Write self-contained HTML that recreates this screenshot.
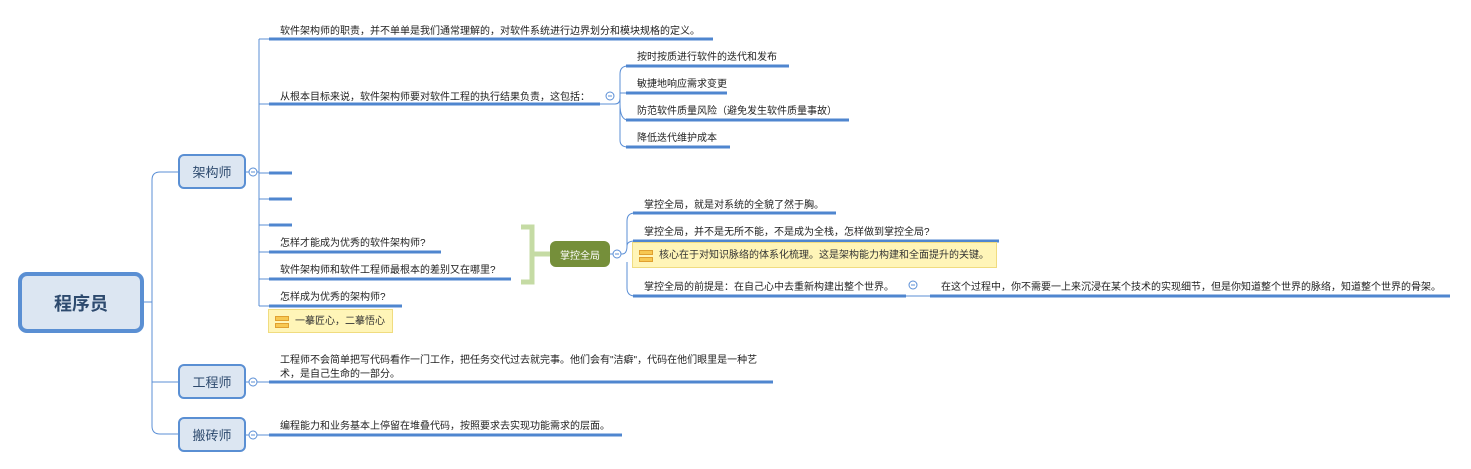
<!DOCTYPE html>
<html><head><meta charset="utf-8"><style>
body{margin:0;width:1471px;height:469px;background:#fff;position:relative;overflow:hidden;font-family:"Liberation Sans","Noto Sans CJK SC",sans-serif;}
.t{position:absolute;font-size:10px;color:#222;white-space:nowrap;line-height:12px;margin-top:2px;}
.box{position:absolute;box-sizing:border-box;background:#dce6f2;border:2px solid #5a8fd3;border-radius:6px;color:#2d4a6e;display:flex;align-items:center;justify-content:center;font-size:13px;}
.note{position:absolute;box-sizing:border-box;background:#fff5b8;border:1px solid #f0dc80;font-size:10px;color:#333;line-height:24px;padding-left:26px;white-space:nowrap;}
.ic{position:absolute;left:6px;width:12px;height:3px;background:#f7c852;border:1px solid #e0a030;}
</style></head><body>
<svg width="1471" height="469" style="position:absolute;left:0;top:0">
<g fill="none" stroke="#5b8fd6" stroke-width="1">
<path d="M144 302 H152"/>
<path d="M178 172 H160 Q152 172 152 180 V426 Q152 434 160 434 H178"/>
<path d="M152 382 H178"/>
<path d="M246 172 H259 M259 39 V306 M259 39 H269 M259 104 H269 M259 173 H269 M259 199 H269 M259 225 H269 M259 252 H269 M259 279 H269 M259 306 H269"/>
<path d="M246 382 H269 M246 435 H269"/>
<path d="M600 104 H615 Q620 104 620 98 V74 Q620 66 628 66 M620 98 V140 Q620 147 628 147 M620 93 H626 M620 104 Q620 120 628 120"/>
<path d="M610 254 H622 Q627 254 627 246 V221 Q627 213 635 213 M627 246 Q627 241 635 241 M627 262 V288 Q627 296 635 296"/>
<path d="M906 296 H930"/>
<circle cx="253" cy="172" r="4" fill="#fff"/><circle cx="253" cy="382" r="4" fill="#fff"/><circle cx="253" cy="435" r="4" fill="#fff"/>
<circle cx="610" cy="96" r="4" fill="#fff"/><circle cx="617" cy="254" r="4" fill="#fff"/><circle cx="913" cy="285" r="4" fill="#fff"/>
</g>
<g stroke="#5b8fd6" stroke-width="1"><path d="M251 172h4M251 382h4M251 435h4M608 96h4M615 254h4M911 285h4"/></g>
<g stroke="#4f86cf" stroke-width="3">
<path d="M269 39H713M269 104H600M269 173H292M269 199H292M269 225H292M269 252H441M269 279H511M269 306H402"/>
<path d="M626 66H789M626 93H727M626 120H849M626 147H730"/>
<path d="M633 213H836M633 241H999M633 296H906M930 296H1450"/>
<path d="M269 382H773M269 435H622"/>
</g>
<path d="M521 227H532V282H521 M532 254H550" fill="none" stroke="#c5dba4" stroke-width="5"/>
</svg>
<div class="box" style="left:18px;top:272px;width:126px;height:61px;border-width:4px;border-radius:9px;font-size:18px;font-weight:bold;">程序员</div>
<div class="box" style="left:178px;top:154px;width:68px;height:35px;">架构师</div>
<div class="box" style="left:178px;top:364px;width:68px;height:35px;">工程师</div>
<div class="box" style="left:178px;top:417px;width:68px;height:35px;">搬砖师</div>
<div class="box" style="left:550px;top:241px;width:60px;height:26px;background:#758f3a;border:none;color:#fff;font-size:10px;">掌控全局</div>
<div class="t" style="left:280px;top:24px">软件架构师的职责，并不单单是我们通常理解的，对软件系统进行边界划分和模块规格的定义。</div>
<div class="t" style="left:280px;top:90px">从根本目标来说，软件架构师要对软件工程的执行结果负责，这包括：</div>
<div class="t" style="left:637px;top:50px">按时按质进行软件的迭代和发布</div>
<div class="t" style="left:637px;top:77px">敏捷地响应需求变更</div>
<div class="t" style="left:637px;top:104px">防范软件质量风险（避免发生软件质量事故）</div>
<div class="t" style="left:637px;top:131px">降低迭代维护成本</div>
<div class="t" style="left:280px;top:236px">怎样才能成为优秀的软件架构师?</div>
<div class="t" style="left:280px;top:263px">软件架构师和软件工程师最根本的差别又在哪里?</div>
<div class="t" style="left:280px;top:290px">怎样成为优秀的架构师?</div>
<div class="note" style="left:268px;top:309px;width:125px;height:24px;"><span class="ic" style="top:6px"></span><span class="ic" style="top:13px"></span>一摹匠心，二摹悟心</div>
<div class="t" style="left:644px;top:198px">掌控全局，就是对系统的全貌了然于胸。</div>
<div class="t" style="left:644px;top:225px">掌控全局，并不是无所不能，不是成为全栈，怎样做到掌控全局?</div>
<div class="note" style="left:632px;top:242px;width:365px;height:26px;line-height:26px;"><span class="ic" style="top:7px"></span><span class="ic" style="top:14px"></span>核心在于对知识脉络的体系化梳理。这是架构能力构建和全面提升的关键。</div>
<div class="t" style="left:644px;top:280px">掌控全局的前提是：在自己心中去重新构建出整个世界。</div>
<div class="t" style="left:941px;top:280px">在这个过程中，你不需要一上来沉浸在某个技术的实现细节，但是你知道整个世界的脉络，知道整个世界的骨架。</div>
<div class="t" style="left:280px;top:353px">工程师不会简单把写代码看作一门工作，把任务交代过去就完事。他们会有"洁癖"，代码在他们眼里是一种艺</div>
<div class="t" style="left:280px;top:367px">术，是自己生命的一部分。</div>
<div class="t" style="left:280px;top:419px">编程能力和业务基本上停留在堆叠代码，按照要求去实现功能需求的层面。</div>
</body></html>
